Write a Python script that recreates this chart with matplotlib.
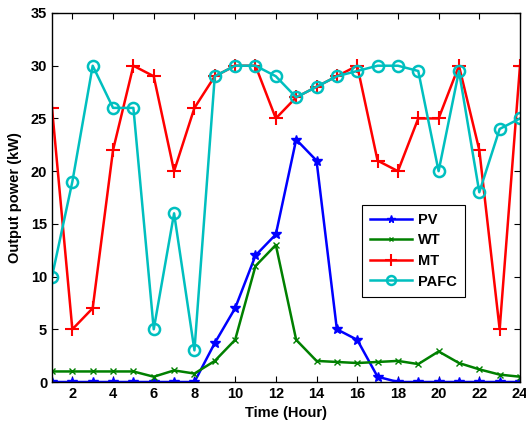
import matplotlib
matplotlib.use('Agg')
import matplotlib.pyplot as plt
import numpy as np

# ----------------------------------------------------------------------------------------------------------------------
#  DATA
# ----------------------------------------------------------------------------------------------------------------------
hours = np.arange(1, 25)
pv   = [0, 0, 0, 0, 0, 0, 0, 0, 3.7, 7, 12, 14, 23, 21, 5, 4, 0.5, 0, 0, 0, 0, 0, 0, 0]
wt   = [1, 1, 1, 1, 1, 0.5, 1.1, 0.8, 2, 4, 11, 13, 4, 2, 1.9, 1.8, 1.9, 2, 1.7, 2.9, 1.8, 1.2, 0.7, 0.5]
mt   = [26, 5, 7, 22, 30, 29, 20, 26, 29, 30, 30, 25, 27, 28, 29, 30, 21, 20, 25, 25, 30, 22, 5, 30]
pafc = [10, 19, 30, 26, 26, 5, 16, 3, 29, 30, 30, 29, 27, 28, 29, 29.5, 30, 30, 29.5, 20, 29.5, 18, 24, 25]

# ----------------------------------------------------------------------------------------------------------------------
#  PLOT
# ----------------------------------------------------------------------------------------------------------------------
plt.rcParams['font.family'] = ['Liberation Sans', 'DejaVu Sans']
plt.rcParams['font.weight'] = 'bold'

fig = plt.figure(figsize=(5.26, 4.23), dpi=100)
ax = fig.add_axes([52/526, 1 - 382/423, 468/526, 369/423])

lw = 1.8
ax.plot(hours, pv, color=(0, 0, 1), marker='*', markersize=7, linewidth=lw, label='PV')
ax.plot(hours, wt, color=(0, 0.5, 0), marker='x', markersize=4, linewidth=lw, label='WT')
ax.plot(hours, mt, color=(1, 0, 0), marker='+', markersize=10, markeredgewidth=1.5, linewidth=lw, label='MT')
ax.plot(hours, pafc, color=(0, 0.75, 0.75), marker='o', markersize=8, markerfacecolor='none',
        markeredgewidth=1.8, linewidth=lw, label='PAFC')

ax.set_xlim(1, 24)
ax.set_ylim(0, 35)
ax.set_xticks(np.arange(2, 25, 2))
ax.set_yticks(np.arange(0, 36, 5))
ax.tick_params(direction='in', top=True, right=True, labelsize=10.5, length=4, width=0.8)
for lab in ax.get_xticklabels() + ax.get_yticklabels():
    lab.set_fontweight('bold')
for sp in ax.spines.values():
    sp.set_linewidth(1.0)

ax.set_xlabel('Time (Hour)', fontsize=10.5, fontweight='bold', labelpad=4)
ax.set_ylabel('Output power (kW)', fontsize=10.5, fontweight='bold', labelpad=6)

leg = ax.legend(loc='upper left', bbox_to_anchor=(0.662, 0.48),
                fancybox=False, edgecolor='black', framealpha=1, fontsize=10.5,
                handlelength=2.9, handletextpad=0.4, borderpad=0.55, borderaxespad=0,
                labelspacing=0.45, markerscale=0.8)
leg.get_frame().set_linewidth(0.8)
for t in leg.get_texts():
    t.set_fontweight('bold')

fig.savefig('out.png', dpi=100)
